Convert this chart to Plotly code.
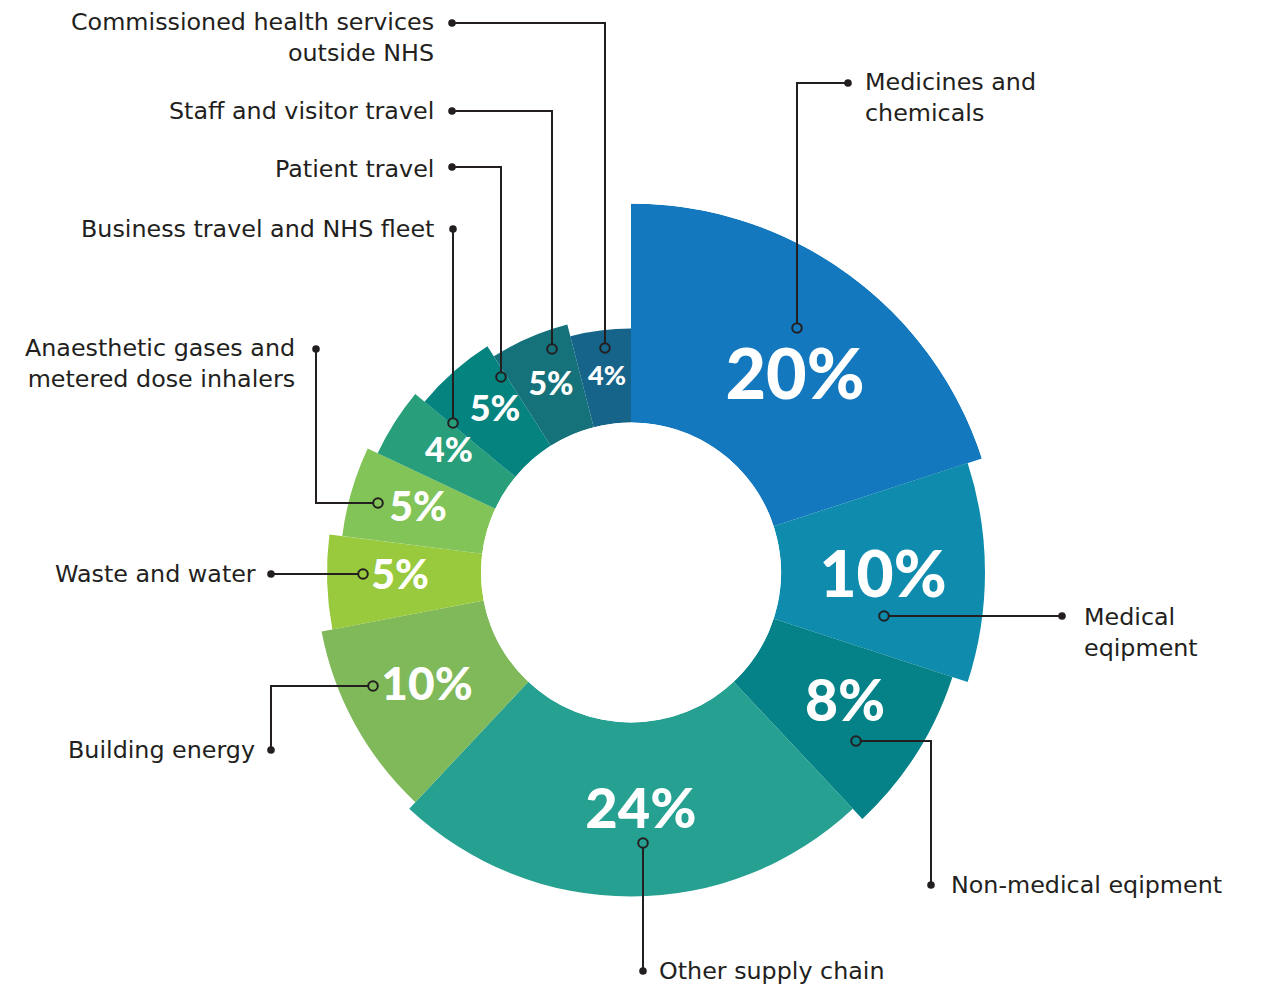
import math
import plotly.graph_objects as go

# ---------------- data ----------------
categories = [
    "Medicines and chemicals", "Medical eqipment", "Non-medical eqipment",
    "Other supply chain", "Building energy", "Waste and water",
    "Anaesthetic gases and metered dose inhalers", "Business travel and NHS fleet",
    "Patient travel", "Staff and visitor travel",
    "Commissioned health services outside NHS",
]
shares = [20, 10, 8, 24, 10, 5, 5, 4, 5, 5, 4]
bar_length = [219, 204, 188, 174, 165, 154, 141, 130, 118, 106, 94]

# ---------------- styles ----------------
colors = ["#1478BE", "#0E8BAD", "#058287", "#26A090", "#80B95A", "#99C93D",
          "#82C457", "#289E7B", "#05837F", "#15727A", "#17648A"]
pct_font_sizes = [70, 64, 57, 56, 46, 41, 41, 34, 36, 32, 27]

# ---------------- layout geometry (reference pixel space) ----------------
W, H = 1261, 985
OFF = 8               # page body margin
CX, CY = 631, 572.5   # donut centre
R_OUT = 369
HOLE_PX = 150
INK = "#231F20"

def px(x):
    return (x - OFF) / W

def py(y):
    return 1 - (y - OFF) / H

# visual centres of the percentage labels
pct_label_px = [(795, 374), (883, 574), (845, 700), (641, 808), (427, 683),
                (400, 574), (418, 506), (449, 450), (495, 408), (551, 383),
                (607, 375)]

thetas, widths = [], []
acc = 0
for s in shares:
    thetas.append((acc + s / 2) * 3.6)
    widths.append(s * 3.6)
    acc += s

lab_r, lab_t = [], []
for (x, y), fs in zip(pct_label_px, pct_font_sizes):
    y = y + 0.11 * fs
    dx, dy = x - CX, y - CY
    lab_r.append(math.hypot(dx, dy) - HOLE_PX)
    lab_t.append(math.degrees(math.atan2(dx, -dy)) % 360)

fig = go.Figure()
fig.add_trace(go.Barpolar(
    r=bar_length, theta=thetas, width=widths,
    marker=dict(color=colors, line=dict(width=0)),
    hoverinfo="skip", showlegend=False,
))
fig.add_trace(go.Scatterpolar(
    r=lab_r, theta=lab_t, mode="text",
    text=[f"{s}%" for s in shares],
    textfont=dict(color="white", size=pct_font_sizes, family="Lato", weight=900),
    hoverinfo="skip", showlegend=False, cliponaxis=False,
))

fig.update_layout(
    width=W, height=H,
    margin=dict(l=0, r=0, t=0, b=0),
    paper_bgcolor="white", plot_bgcolor="white",
    polar=dict(
        domain=dict(x=[px(CX - R_OUT), px(CX + R_OUT)],
                    y=[py(CY + R_OUT), py(CY - R_OUT)]),
        hole=HOLE_PX / R_OUT,
        bgcolor="rgba(0,0,0,0)",
        angularaxis=dict(rotation=90, direction="clockwise", visible=False,
                         showgrid=False, showline=False, showticklabels=False, ticks=""),
        radialaxis=dict(range=[0, R_OUT - HOLE_PX], visible=False,
                        showgrid=False, showline=False, showticklabels=False, ticks=""),
    ),
)

# leader lines: path from label dot to anchor circle, segment index
leaders = [
    ([(452, 23), (605, 23), (605, 348)], 10),
    ([(452, 111), (552, 111), (552, 349)], 9),
    ([(452, 167), (501, 167), (501, 377)], 8),
    ([(453, 229), (453, 423)], 7),
    ([(316, 349), (316, 503), (378, 503)], 6),
    ([(271, 574), (363, 574)], 5),
    ([(271, 750), (271, 686), (373, 686)], 4),
    ([(643, 971), (643, 843)], 3),
    ([(931, 885), (931, 741), (856, 741)], 2),
    ([(1062, 616), (884, 616)], 1),
    ([(848, 83), (797, 83), (797, 328)], 0),
]

shapes = []
for pts, idx in leaders:
    path = "M " + " L ".join(f"{px(x):.5f},{py(y):.5f}" for x, y in pts)
    shapes.append(dict(type="path", xref="paper", yref="paper", path=path,
                       line=dict(color=INK, width=2), layer="above"))
    x0, y0 = pts[0]
    r = 3.8
    shapes.append(dict(type="circle", xref="paper", yref="paper",
                       x0=px(x0 - r), x1=px(x0 + r), y0=py(y0 + r), y1=py(y0 - r),
                       fillcolor=INK, line=dict(color=INK, width=0), layer="above"))
    x1, y1 = pts[-1]
    r = 4.8
    shapes.append(dict(type="circle", xref="paper", yref="paper",
                       x0=px(x1 - r), x1=px(x1 + r), y0=py(y1 + r), y1=py(y1 - r),
                       fillcolor=colors[idx], line=dict(color=INK, width=2), layer="above"))
fig.update_layout(shapes=shapes)

# category labels
label_pos = [
    (863, 97.5, "left", "Medicines and<br>chemicals"),
    (1082, 632, "left", "Medical<br>eqipment"),
    (949, 885, "left", "Non-medical eqipment"),
    (657, 971, "left", "Other supply chain"),
    (257, 750, "right", "Building energy"),
    (258, 574, "right", "Waste and water"),
    (297, 363.5, "right", "Anaesthetic gases and<br>metered dose inhalers"),
    (436, 229, "right", "Business travel and NHS fleet"),
    (436, 169, "right", "Patient travel"),
    (436, 111, "right", "Staff and visitor travel"),
    (436, 37.5, "right", "Commissioned health services<br>outside NHS"),
]
for x, y, anchor, text in label_pos:
    fig.add_annotation(x=px(x), y=py(y), xref="paper", yref="paper",
                       text=text, showarrow=False, xanchor=anchor, yanchor="middle",
                       align=anchor, font=dict(family="DejaVu Sans", size=23.8, color=INK))

fig.write_html("out.html")
